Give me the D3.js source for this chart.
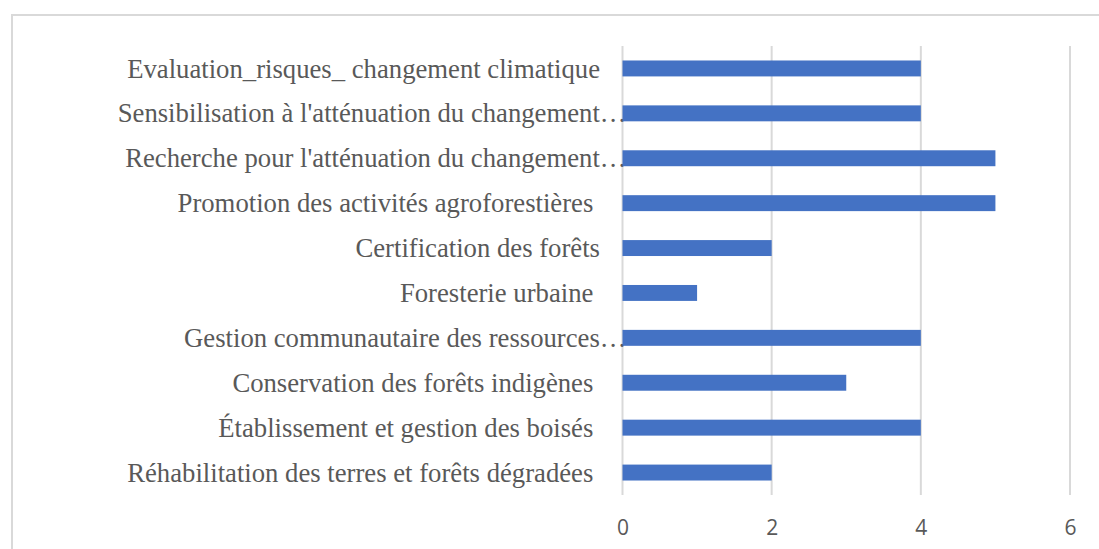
<!DOCTYPE html>
<html>
<head>
<meta charset="utf-8">
<script src="https://cdn.jsdelivr.net/npm/d3@7"></script>
<style>
  body { margin: 0; background: #fff; }
  svg { display: block; }
  .cat { font-family: "Liberation Serif", "Times New Roman", serif; font-size: 26.7px; fill: #595959; white-space: pre; }
  .tick text { font-family: "Open Sans", "Liberation Sans", sans-serif; font-size: 21px; fill: #595959; }
</style>
</head>
<body>
<script>
// categories, top to bottom (trailing spaces kept as in the source chart)
const categories = [
  "Evaluation_risques_ changement climatique",
  "Sensibilisation à l'atténuation du changement…",
  "Recherche pour l'atténuation du changement…",
  "Promotion des activités agroforestières ",
  "Certification des forêts",
  "Foresterie urbaine ",
  "Gestion communautaire des ressources…",
  "Conservation des forêts indigènes ",
  "Établissement et gestion des boisés ",
  "Réhabilitation des terres et forêts dégradées ",
]
const values = [4, 4, 5, 5, 2, 1, 4, 3, 4, 2]
const xTicks = [0, 2, 4, 6]

const width = 1099, height = 549
const plot = {left: 622.5, right: 1070, top: 46, bottom: 495}

const svg = d3.select("body").append("svg")
  .attr("width", width)
  .attr("height", height)

// chart border (runs off the page on the right and bottom)
svg.append("rect")
  .attr("x", 12)
  .attr("y", 15)
  .attr("width", width)
  .attr("height", height)
  .attr("fill", "none")
  .attr("stroke", "#d9d9d9")
  .attr("stroke-width", 2)

const x = d3.scaleLinear()
  .domain([0, 6])
  .range([plot.left, plot.right])

const y = d3.scaleBand()
  .domain(categories)
  .range([plot.top, plot.bottom])
  .paddingInner(0.645)
  .paddingOuter(0.3225)

// gridlines
svg.append("g")
  .selectAll("line")
  .data(xTicks)
  .enter()
  .append("line")
  .attr("x1", d => x(d))
  .attr("x2", d => x(d))
  .attr("y1", plot.top)
  .attr("y2", plot.bottom)
  .attr("stroke", "#d9d9d9")
  .attr("stroke-width", 2)

// category labels (drawn before the bars so the bars cover the clipped ellipsis)
svg.append("g")
  .selectAll("text")
  .data(categories)
  .enter()
  .append("text")
  .attr("class", "cat")
  .attr("x", d => d.endsWith("…") ? x(0) + 4 : x(0) - 22.5)
  .attr("y", d => y(d) + y.bandwidth() / 2)
  .attr("dy", "0.34em")
  .attr("text-anchor", "end")
  .text(d => d)

// bars
svg.append("g")
  .selectAll("rect")
  .data(categories)
  .enter()
  .append("rect")
  .attr("x", x(0))
  .attr("y", d => y(d))
  .attr("width", (d, i) => x(values[i]) - x(0))
  .attr("height", y.bandwidth())
  .attr("fill", "#4472c4")

// value axis
const xAxis = svg.append("g")
  .attr("transform", `translate(0, ${plot.bottom})`)
  .call(d3.axisBottom(x).tickValues(xTicks).tickFormat(d3.format("d")).tickSize(0).tickPadding(25))
xAxis.select(".domain").remove()
</script>
</body>
</html>
